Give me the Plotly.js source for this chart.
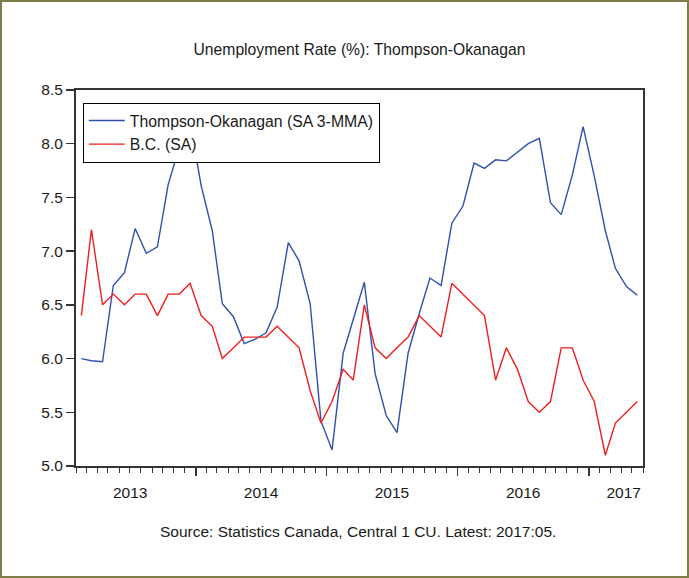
<!DOCTYPE html>
<html>
<head>
<meta charset="utf-8">
<script src="https://cdn.plot.ly/plotly-3.0.1.min.js"></script>
<style>
  html, body { margin: 0; padding: 0; background: #ffffff; }
  #frame { width: 689px; height: 578px; box-sizing: border-box; border: 2px solid #7d7d4a; position: relative; overflow: hidden; }
  #chart { width: 685px; height: 574px; position: absolute; left: 0; top: 0; }
</style>
</head>
<body>
<div id="frame"><div id="chart"></div></div>
<script>
// Monthly observations, 2013:02 to 2017:05
const months = [
  '2013-02','2013-03','2013-04','2013-05','2013-06','2013-07','2013-08','2013-09','2013-10','2013-11','2013-12',
  '2014-01','2014-02','2014-03','2014-04','2014-05','2014-06','2014-07','2014-08','2014-09','2014-10','2014-11','2014-12',
  '2015-01','2015-02','2015-03','2015-04','2015-05','2015-06','2015-07','2015-08','2015-09','2015-10','2015-11','2015-12',
  '2016-01','2016-02','2016-03','2016-04','2016-05','2016-06','2016-07','2016-08','2016-09','2016-10','2016-11','2016-12',
  '2017-01','2017-02','2017-03','2017-04','2017-05'
];

// Thompson-Okanagan (SA 3-MMA)
const thompsonOkanagan = [
  6.00, 5.98, 5.97, 6.68, 6.80, 7.21, 6.98, 7.04, 7.62, 7.97, 8.20,
  7.61, 7.19, 6.51, 6.39, 6.14, 6.18, 6.24, 6.48, 7.08, 6.91, 6.51, 5.42,
  5.15, 6.05, 6.36, 6.71, 5.86, 5.47, 5.31, 6.05, 6.42, 6.75, 6.68, 7.26,
  7.42, 7.82, 7.77, 7.85, 7.84, 7.92, 8.00, 8.05, 7.45, 7.34, 7.71, 8.16,
  7.70, 7.19, 6.84, 6.67, 6.59
];

// B.C. (SA)
const bc = [
  6.4, 7.2, 6.5, 6.6, 6.5, 6.6, 6.6, 6.4, 6.6, 6.6, 6.7,
  6.4, 6.3, 6.0, 6.1, 6.2, 6.2, 6.2, 6.3, 6.2, 6.1, 5.7, 5.4,
  5.6, 5.9, 5.8, 6.5, 6.1, 6.0, 6.1, 6.2, 6.4, 6.3, 6.2, 6.7,
  6.6, 6.5, 6.4, 5.8, 6.1, 5.9, 5.6, 5.5, 5.6, 6.1, 6.1, 5.8,
  5.6, 5.1, 5.4, 5.5, 5.6
];

const seriesNames = ['Thompson-Okanagan (SA 3-MMA)', 'B.C. (SA)'];
const yearLabels = ['2013', '2014', '2015', '2016', '2017'];
const yearLabelPos = ['2013-07-02', '2014-07-02', '2015-07-02', '2016-07-02', '2017-04-08'];

const titleText = 'Unemployment Rate (%): Thompson-Okanagan';
const sourceText = 'Source: Statistics Canada, Central 1 CU. Latest: 2017:05.';

const xDates = months.map(m => m + '-16');
const FONT = 'Arial, "Liberation Sans", sans-serif';
const TXT = '#1a1a1a';
const AX = '#333333';

const traces = [
  {
    x: xDates, y: thompsonOkanagan, name: seriesNames[0], type: 'scatter', mode: 'lines',
    line: { color: '#3050b0', width: 1.4 }, xaxis: 'x', yaxis: 'y'
  },
  {
    x: xDates, y: bc, name: seriesNames[1], type: 'scatter', mode: 'lines',
    line: { color: '#f01e1e', width: 1.4 }, xaxis: 'x2', yaxis: 'y'
  }
];

const layout = {
  width: 685, height: 574,
  margin: { l: 74, r: 44, t: 88, b: 110 },
  paper_bgcolor: '#ffffff', plot_bgcolor: '#ffffff',
  font: { family: FONT, size: 15.5, color: TXT },
  showlegend: true,
  title: {
    text: titleText, font: { family: FONT, size: 15.7, color: TXT },
    xref: 'paper', x: 0.5, xanchor: 'center', yref: 'container', y: 1 - 48 / 574, yanchor: 'middle'
  },
  xaxis: {
    type: 'date', range: ['2013-02-01', '2017-06-01'],
    tickmode: 'linear', tick0: '2013-01-01', dtick: 'M12',
    ticks: 'outside', ticklen: 8, tickwidth: 1.5, tickcolor: AX,
    showticklabels: false,
    minor: { tickmode: 'linear', tick0: '2013-01-01', dtick: 'M1', ticks: 'outside', ticklen: 5, tickwidth: 1, tickcolor: AX },
    showline: true, linecolor: AX, linewidth: 2, mirror: true,
    showgrid: false, zeroline: false, fixedrange: true
  },
  xaxis2: {
    type: 'date', overlaying: 'x', matches: 'x', anchor: 'y', side: 'bottom',
    tickmode: 'array', tickvals: yearLabelPos, ticktext: yearLabels,
    ticks: 'outside', ticklen: 12, tickcolor: 'rgba(0,0,0,0)',
    tickfont: { family: FONT, size: 15.5, color: TXT },
    showline: false, showgrid: false, zeroline: false
  },
  yaxis: {
    range: [5.0, 8.5], tickmode: 'linear', tick0: 5.0, dtick: 0.5, tickformat: '.1f',
    ticks: 'outside', ticklen: 8, tickwidth: 1.5, tickcolor: AX,
    tickfont: { family: FONT, size: 15.5, color: TXT },
    showline: true, linecolor: AX, linewidth: 2, mirror: true,
    showgrid: false, zeroline: false
  },
  legend: {
    x: 0.012, y: 0.966, xanchor: 'left', yanchor: 'top',
    bgcolor: '#ffffff', bordercolor: '#000000', borderwidth: 1,
    font: { family: FONT, size: 15.8, color: TXT },
    itemwidth: 36, traceorder: 'normal'
  },
  annotations: [
    {
      text: sourceText, xref: 'paper', yref: 'paper', x: 0.4977, y: -0.173,
      xanchor: 'center', yanchor: 'middle', showarrow: false,
      font: { family: FONT, size: 15.5, color: TXT }
    }
  ]
};

Plotly.newPlot('chart', traces, layout, { staticPlot: true, displayModeBar: false });
</script>
</body>
</html>
